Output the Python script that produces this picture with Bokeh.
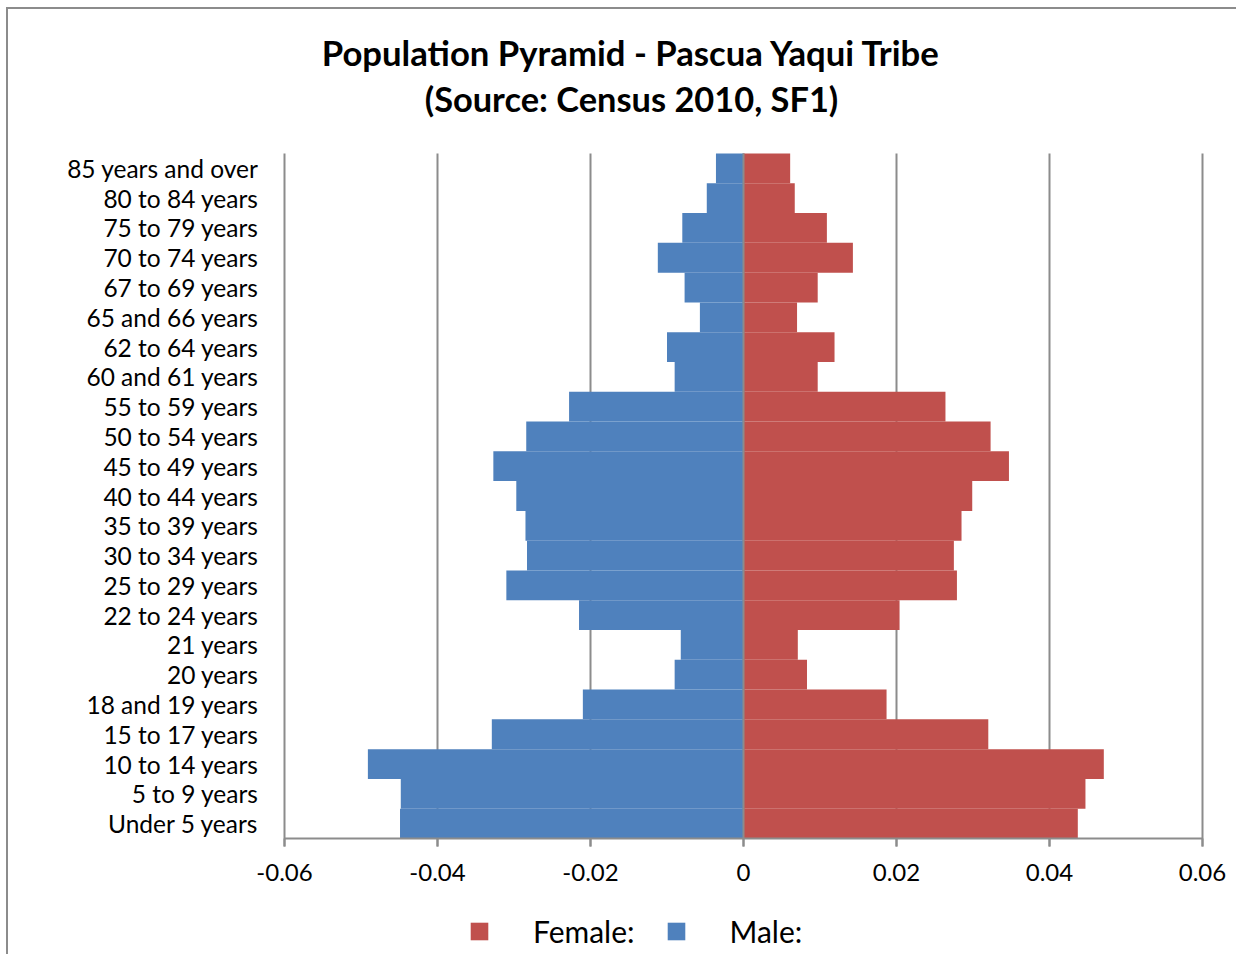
from bokeh.plotting import figure
from bokeh.models import (Range1d, FixedTicker, CustomJSTickFormatter, LinearAxis,
                          Label, Legend, LegendItem, ColumnDataSource)
from bokeh.embed import file_html
from bokeh.resources import INLINE

ages = ["Under 5 years", "5 to 9 years", "10 to 14 years", "15 to 17 years",
        "18 and 19 years", "20 years", "21 years", "22 to 24 years",
        "25 to 29 years", "30 to 34 years", "35 to 39 years", "40 to 44 years",
        "45 to 49 years", "50 to 54 years", "55 to 59 years", "60 and 61 years",
        "62 to 64 years", "65 and 66 years", "67 to 69 years", "70 to 74 years",
        "75 to 79 years", "80 to 84 years", "85 years and over"]

male = [-0.0449, -0.0448, -0.0491, -0.0329, -0.0210, -0.0090, -0.0082, -0.0215,
        -0.0310, -0.0283, -0.0285, -0.0297, -0.0327, -0.0284, -0.0228, -0.0090,
        -0.0100, -0.0057, -0.0077, -0.0112, -0.0080, -0.0048, -0.0036]

female = [0.0437, 0.0447, 0.0471, 0.0320, 0.0187, 0.0083, 0.0071, 0.0204,
          0.0279, 0.0275, 0.0285, 0.0299, 0.0347, 0.0323, 0.0264, 0.0097,
          0.0119, 0.0070, 0.0097, 0.0143, 0.0109, 0.0067, 0.0061]

x_ticks = [-0.06, -0.04, -0.02, 0, 0.02, 0.04, 0.06]

title_line1 = "Population Pyramid - Pascua Yaqui Tribe"
title_line2 = "(Source: Census 2010, SF1)"

FONT = "Lato"
GRID = "#8c8c8c"

# ---- layout (pixels) ----
W, H = 1236, 954
PLOT_L, PLOT_R, PLOT_T, PLOT_B = 284, 1202, 153, 838
TICK = 8
x_lo, x_hi = x_ticks[0], x_ticks[-1]
n = len(ages)
y_lo, y_hi = -0.5, n - 0.5
xpx = (PLOT_R - PLOT_L) / (x_hi - x_lo)
ypx = (PLOT_B - PLOT_T) / (y_hi - y_lo)
x_range = Range1d(x_lo - PLOT_L / xpx, x_hi + (W - PLOT_R) / xpx)
y_range = Range1d(y_lo - (H - PLOT_B) / ypx, y_hi + PLOT_T / ypx)

ypos = list(range(n))
src = ColumnDataSource(dict(y=ypos, age=ages, male=male, female=female))
# grid lines run from the top of the bars down through the axis as tick marks
grid_src = ColumnDataSource(dict(x=x_ticks,
                                 y0=[y_lo - TICK / ypx] * len(x_ticks),
                                 y1=[y_hi] * len(x_ticks)))

p = figure(width=W, height=H, output_backend="svg", toolbar_location=None,
           x_range=x_range, y_range=y_range,
           x_axis_location=None, y_axis_location=None,
           min_border=0)
p.outline_line_color = None
p.background_fill_color = None
p.border_fill_color = None
p.grid.visible = False
p.styles = {
    "background": ("linear-gradient(#8c8c8c, #8c8c8c) 6px 7px / 2px 100% no-repeat, "
                   "linear-gradient(#8c8c8c, #8c8c8c) 6px 7px / 100% 2px no-repeat, white"),
}

p.segment(x0="x", x1="x", y0="y0", y1="y1", source=grid_src,
          line_color=GRID, line_width=2)

r_m = p.hbar(y="y", left=0, right="male", height=1.0, source=src,
             fill_color="#4F81BD", line_color=None)
r_f = p.hbar(y="y", left=0, right="female", height=1.0, source=src,
             fill_color="#C0504D", line_color=None)

# zero line drawn over the bars
p.segment(x0=[0], x1=[0], y0=[y_lo], y1=[y_hi], line_color=GRID, line_width=2)

# x axis fixed at the bottom of the bars
xa = LinearAxis(fixed_location=y_lo, ticker=FixedTicker(ticks=x_ticks),
                bounds=(x_lo, x_hi),
                formatter=CustomJSTickFormatter(code="return tick === 0 ? '0' : tick.toFixed(2);"))
xa.axis_line_color = GRID
xa.axis_line_width = 2
xa.major_tick_line_color = GRID
xa.major_tick_line_width = 2
xa.major_tick_out = TICK
xa.major_tick_in = 0
xa.minor_tick_line_color = None
xa.major_label_text_font = FONT
xa.major_label_text_font_size = "24px"
xa.major_label_text_color = "black"
xa.major_label_standoff = 17
p.add_layout(xa, "below")

# y axis (category labels) fixed at the left edge
ya = LinearAxis(fixed_location=x_lo, ticker=FixedTicker(ticks=ypos),
                major_label_overrides={i: a for i, a in zip(ypos, ages)})
ya.axis_line_color = None
ya.major_tick_line_color = None
ya.minor_tick_line_color = None
ya.major_tick_out = 0
ya.major_tick_in = 0
ya.major_label_standoff = 26
ya.major_label_text_font = FONT
ya.major_label_text_font_size = "24.5px"
ya.major_label_text_color = "black"
p.add_layout(ya, "left")

# titles (screen coordinates: x from left, y from bottom)
p.add_layout(Label(x=631, y=H - 52, x_units="screen", y_units="screen", text=title_line1,
                   text_font=FONT, text_font_style="bold", text_font_size="34.7px",
                   text_align="center", text_baseline="middle", text_color="black"))
p.add_layout(Label(x=631, y=H - 98, x_units="screen", y_units="screen", text=title_line2,
                   text_font=FONT, text_font_style="bold", text_font_size="34.4px",
                   text_align="center", text_baseline="middle", text_color="black"))

legend = Legend(items=[LegendItem(label="Female:", renderers=[r_f]),
                       LegendItem(label="Male:", renderers=[r_m])],
                orientation="horizontal", location=(468, 5))
legend.border_line_color = None
legend.background_fill_alpha = 0
legend.padding = 0
legend.margin = 0
legend.spacing = 30
legend.glyph_width = 22
legend.glyph_height = 22
legend.label_standoff = 43
legend.label_text_font = FONT
legend.label_text_font_size = "30px"
legend.label_text_color = "black"
p.add_layout(legend, "center")

open("out.html", "w").write(file_html(p, INLINE))
